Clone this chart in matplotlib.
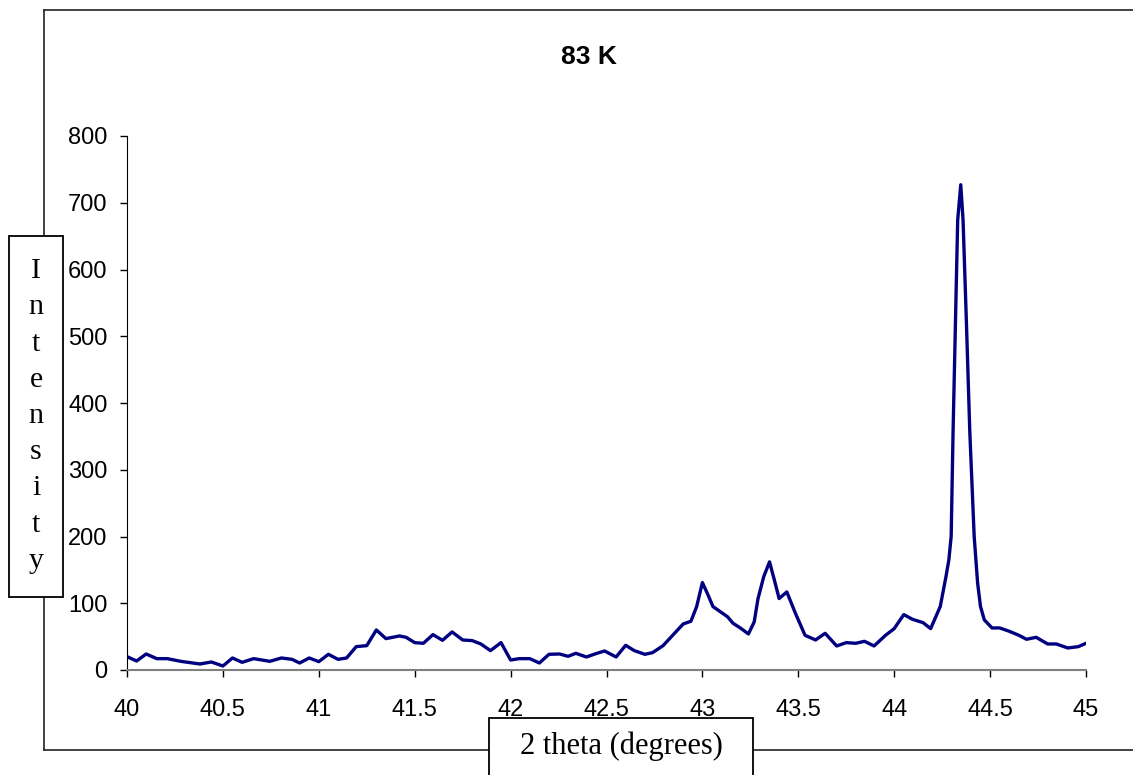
import matplotlib.pyplot as plt
from matplotlib.patches import Rectangle
from matplotlib.lines import Line2D

# 2 theta (deg) and intensity at 83 K
two_theta = [40.00, 40.05, 40.10, 40.155, 40.21, 40.28, 40.38, 40.44, 40.50, 40.55,
             40.60, 40.66, 40.745, 40.805, 40.86, 40.90, 40.95, 41.00, 41.05, 41.10,
             41.145, 41.195, 41.25, 41.30, 41.35, 41.42, 41.455, 41.50, 41.545, 41.595,
             41.645, 41.695, 41.75, 41.80, 41.845, 41.895, 41.95, 42.00, 42.045, 42.10,
             42.15, 42.20, 42.255, 42.30, 42.34, 42.395, 42.45, 42.49, 42.55, 42.60,
             42.645, 42.70, 42.74, 42.795, 42.845, 42.90, 42.94, 42.97, 43.00, 43.03,
             43.055, 43.09, 43.13, 43.16, 43.20, 43.24, 43.27, 43.29, 43.32, 43.35,
             43.375, 43.40, 43.44, 43.485, 43.535, 43.59, 43.64, 43.70, 43.75, 43.80,
             43.845, 43.895, 43.955, 44.00, 44.05, 44.095, 44.15, 44.19, 44.24, 44.27,
             44.285, 44.297, 44.307, 44.319, 44.331, 44.347, 44.359, 44.377, 44.394, 44.417,
             44.435, 44.45, 44.47, 44.51, 44.55, 44.60, 44.65, 44.69, 44.74, 44.80,
             44.845, 44.905, 44.96, 45.00]
intensity = [20, 13.5, 24, 17, 17, 13, 9, 12, 6, 18,
             11.5, 17, 13, 18, 16, 10.5, 18, 12.5, 23.5, 16,
             18, 35, 36.5, 60, 47, 51, 49, 41, 40, 53,
             44.5, 57, 45, 44, 39, 29, 41, 15, 17, 17,
             10.5, 23.5, 24, 20.5, 25, 19.5, 25, 28.5, 19.5, 37,
             29, 23.5, 26, 36.5, 52, 69, 73, 95, 131, 112,
             95, 88, 80, 70, 62.5, 54, 72, 107, 140, 162,
             135, 107, 117, 85, 52, 45, 55, 36, 41, 40,
             43, 36, 52, 62, 83, 76, 71, 62, 95, 140,
             165, 200, 358, 516, 674, 727, 674, 516, 358, 200,
             130, 95, 75, 63, 63, 58, 52, 46, 49, 39,
             39, 33, 35, 40]

x_ticks = [40, 40.5, 41, 41.5, 42, 42.5, 43, 43.5, 44, 44.5, 45]
x_labels = ['40', '40.5', '41', '41.5', '42', '42.5', '43', '43.5', '44', '44.5', '45']
y_ticks = [0, 100, 200, 300, 400, 500, 600, 700, 800]

W, H = 1133, 775
fig = plt.figure(figsize=(W / 100, H / 100), dpi=100)
ax = fig.add_axes([127 / W, 1 - 670 / H, (1086 - 127) / W, (670 - 136) / H])
ax.patch.set_visible(False)
ax.set_zorder(5)

ax.plot(two_theta, intensity, color='#000080', lw=2.4,
        solid_joinstyle='round', solid_capstyle='round')
ax.set_xlim(40, 45)
ax.set_ylim(0, 800)

ax.set_xticks(x_ticks)
ax.set_xticklabels(x_labels)
ax.set_yticks(y_ticks)
for s in ['top', 'right']:
    ax.spines[s].set_visible(False)
ax.spines['left'].set_color('black')
ax.spines['bottom'].set_color('#808080')
ax.spines['bottom'].set_linewidth(1.5)
ax.tick_params(axis='x', direction='out', length=5, width=1, colors='black',
               labelsize=17, pad=16)
ax.tick_params(axis='y', direction='out', length=5, width=1, colors='black',
               labelsize=17, pad=9)
for lab in ax.get_xticklabels() + ax.get_yticklabels():
    lab.set_fontfamily('Liberation Sans')

# title
fig.text(588.5 / W, 1 - 57 / H, '83 K', ha='center', va='center',
         fontsize=19, fontweight='bold', family='Liberation Sans')

# outer chart frame (right edge falls off the picture)
def px(x, y):
    return x / W, 1 - y / H

for (x0, y0), (x1, y1) in [((44, 10), (1140, 10)), ((44, 10), (44, 750)),
                           ((44, 750), (1140, 750))]:
    (a, b), (c, d) = px(x0, y0), px(x1, y1)
    fig.add_artist(Line2D([a, c], [b, d], color='#333333', lw=1.3,
                          transform=fig.transFigure, zorder=1))

# y-axis title box
fig.add_artist(Rectangle(px(9, 597), 54 / W, 361 / H, transform=fig.transFigure,
                         facecolor='white', edgecolor='black', lw=1.3, zorder=2))
fig.text(36 / W, 1 - 416 / H, '\n'.join('Intensity'), ha='center', va='center',
         fontsize=21.5, family='Liberation Serif', linespacing=1.51, zorder=3)

# x-axis title box
fig.add_artist(Rectangle(px(489, 800), 264 / W, 82 / H, transform=fig.transFigure,
                         facecolor='white', edgecolor='black', lw=1.3, zorder=2))
fig.text(621 / W, 1 - 746 / H, '2 theta (degrees)', ha='center', va='center',
         fontsize=22, family='Liberation Serif', zorder=3)

fig.savefig('out.png', dpi=100)
